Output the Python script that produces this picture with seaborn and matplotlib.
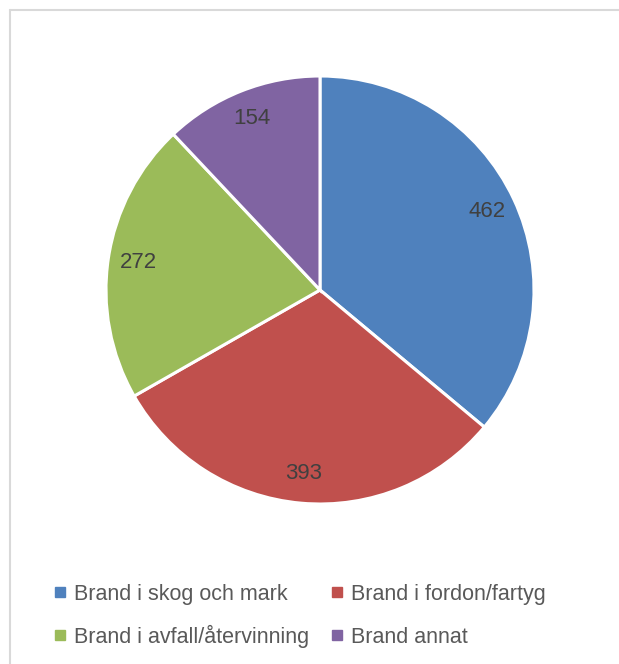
import matplotlib
matplotlib.use("Agg")
import matplotlib.pyplot as plt
from matplotlib.lines import Line2D
import seaborn as sns

# data
categories = ["Brand i skog och mark", "Brand i fordon/fartyg",
              "Brand i avfall/återvinning", "Brand annat"]
values = [462, 393, 272, 154]
colors = ["#4F81BD", "#C0504D", "#9BBB59", "#8064A2"]

sns.set_theme(style="white")
plt.rcParams['font.family'] = ['Liberation Sans', 'DejaVu Sans']

fig = plt.figure(figsize=(6.19, 6.64), dpi=100)
fig.patch.set_facecolor("white")

# pie centre ~ (320, 290) px, radius ~214 px
W, H = 619, 664
cx, cy, r = 320, 290, 214
ax = fig.add_axes([(cx - r) / W, (H - cy - r) / H, 2 * r / W, 2 * r / H])

total = sum(values)
wedges, texts, autotexts = ax.pie(
    values, colors=colors, startangle=90, counterclock=False,
    autopct=lambda p: f"{round(p * total / 100)}", pctdistance=0.86,
    wedgeprops=dict(edgecolor="white", linewidth=2.2),
    textprops=dict(fontsize=16, color="#404040"))
ax.set_xlim(-1, 1)
ax.set_ylim(-1, 1)
ax.set_aspect("equal")

# legend: 2x2 grid, one small legend per entry so the rows stay on one baseline
col_x = [54, 331]
row_y = [605, 648]
for i, (lab, c) in enumerate(zip(categories, colors)):
    h = Line2D([], [], marker="s", linestyle="", markersize=7, color=c)
    fig.legend([h], [lab], frameon=False, loc="lower left",
               bbox_to_anchor=(col_x[i % 2] / W, 1 - row_y[i // 2] / H),
               borderaxespad=0, borderpad=0, handlelength=0.6,
               handletextpad=0.35, fontsize=15.5, labelcolor="#595959")

# light chart-area border (only top and left edges visible)
bc = "#D9D9D9"
fig.add_artist(Line2D([10 / W, 10 / W], [0, 1 - 10 / H], color=bc, lw=1.5,
                      transform=fig.transFigure))
fig.add_artist(Line2D([10 / W, 1], [1 - 10 / H, 1 - 10 / H], color=bc, lw=1.5,
                      transform=fig.transFigure))

fig.savefig("out.png", dpi=100, facecolor="white")
